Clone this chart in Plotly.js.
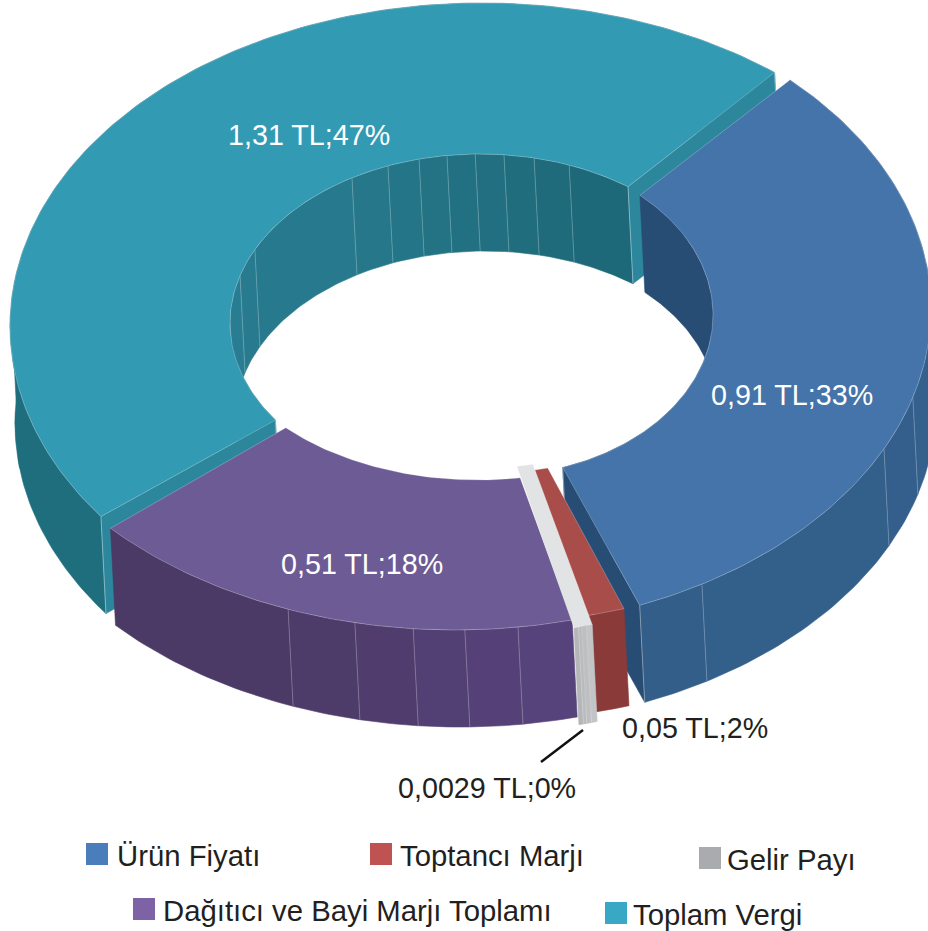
<!DOCTYPE html>
<html>
<head>
<meta charset="utf-8">
<script src="https://cdn.plot.ly/plotly-3.0.1.min.js"></script>
<style>html,body{margin:0;padding:0;background:#fff}#c{width:928px;height:931px}</style>
</head>
<body>
<div id="c"></div>
<script>
// ---- data ----
const categories = ['Ürün Fiyatı', 'Toptancı Marjı', 'Gelir Payı', 'Dağıtıcı ve Bayi Marjı Toplamı', 'Toplam Vergi'];
const values = [0.91, 0.05, 0.0029, 0.51, 1.31];
const valueTexts = ['0,91 TL', '0,05 TL', '0,0029 TL', '0,51 TL', '1,31 TL'];
const percentTexts = ['33%', '2%', '0%', '18%', '47%'];
const legendColors = ['#4A7EBB', '#BE5351', '#AAABAF', '#7D62A6', '#39A8C5'];

// ---- projection of the ring (drawn in axis units) ----
const startAngle = 42, wallDx = 5, wallDy = 97;
const geom = [
  {o:[463,309,468,320], i:[492,315,221,161], trim:[2.3,-1.9,0,1.6],    top:'#4474A9', cut:'#274D75', inner:['#274D75','#274D75'], wall:['#34608D','#335E8A'], oSeams:[149.3,115.9,106], iSeams:[], hasInner:true, cuts:[false,true]},
  {o:[480,300,474,324], i:[478,302,268,172], trim:[2.6,1.6,5.2,3],     top:'#A94D4B', cut:'#8A3A39', inner:['#8A3A39','#8A3A39'], wall:['#8A3A39','#8A3A39'], oSeams:[], iSeams:[], hasInner:false, cuts:[false,false]},
  {o:[467,312,474,324], i:[478,296,268,172], trim:[-1.5,0.4,2,5.1],    top:'#E1E3E5', cut:'#A9ABAD', inner:['#BDBFC1','#BDBFC1'], wall:['#C2C4C6','#B4B6B8'], oSeams:[165.4,166,166.4], iSeams:[], hasInner:false, cuts:[false,false]},
  {o:[455,312,470,318], i:[478,308,268,172], trim:[-1,-5.4,4.4,-6.7],  top:'#6D5B95', cut:'#4B3A66', inner:['#4B3A66','#4B3A66'], wall:['#57437B','#4B3966'], oSeams:[172.3,178.8,185.1,192.3,200.8], iSeams:[], hasInner:false, cuts:[false,false]},
  {o:[482,326,472,323], i:[480,323,250,169], trim:[1.3,-3.7,2.4,-5.7], top:'#329AB3', cut:'#2C879C', inner:['#2A7F94','#1E6979'], wall:['#1F6E7D','#1F6E7D'], oSeams:[], iSeams:[270,286.3,295.8,329.2,338.4,345.9,352.4,358.9,365.5,372.5,380.9], hasInner:true, cuts:[true,true]}
];
const drawOrder = [4, 0, 3, 1, 2];

// ---- helpers ----
const rad = d => d * Math.PI / 180;
const pt = (e, a) => [e[0] + e[2] * Math.sin(rad(a)), e[1] - e[3] * Math.cos(rad(a))];
function arc(e, a0, a1) {
  const n = Math.max(2, Math.ceil(Math.abs(a1 - a0))), out = [];
  for (let k = 0; k <= n; k++) out.push(pt(e, a0 + (a1 - a0) * k / n));
  return out;
}
const drop = p => [p[0] + wallDx, p[1] + wallDy];
function hex(c){return [1,3,5].map(i=>parseInt(c.substr(i,2),16));}
function mix(a,b,t){const A=hex(a),B=hex(b);return 'rgb('+A.map((v,i)=>Math.round(v+(B[i]-v)*t)).join(',')+')';}
function poly(pts, color, lineColor, lineW) {
  const x = pts.map(p=>p[0]).concat(pts[0][0]), y = pts.map(p=>p[1]).concat(pts[0][1]);
  return {type:'scatter', mode:'lines', x, y, fill:'toself', fillcolor:color,
          line:{color:lineColor||color, width:lineW===undefined?0.6:lineW}, hoverinfo:'skip', showlegend:false};
}
function seam(p, opacity) {
  const q = drop(p);
  return {type:'scatter', mode:'lines', x:[p[0],q[0]], y:[p[1],q[1]],
          line:{color:'rgba(255,255,255,'+opacity+')', width:1}, hoverinfo:'skip', showlegend:false};
}
function wall(e, a0, a1, seams, cols) {
  const cuts = [a0].concat(seams.filter(s=>s>a0&&s<a1).sort((p,q)=>p-q)).concat(a1), res = [];
  for (let k=0;k<cuts.length-1;k++){
    const top = arc(e,cuts[k],cuts[k+1]), color = mix(cols[0],cols[1],cuts.length>2 ? k/(cuts.length-2) : 0);
    res.push(poly(top.concat(top.slice().reverse().map(drop)), color));
    // where the ring's side is tangent to the extrusion, close the silhouette
    [90,270].forEach(x=>{
      if (x-8>=cuts[k] && x+8<=cuts[k+1]) {
        const a=pt(e,x-8), m=pt(e,x), b=pt(e,x+8);
        res.push(poly([a,m,b,drop(b),drop(m),drop(a)], color));
      }
    });
  }
  return res;
}

// ---- angles come from the values ----
const total = values.reduce((a,b)=>a+b,0);
let acc = startAngle;
const spans = values.map(v=>{const s=[acc,acc+v/total*360];acc=s[1];return s;});

const traces = [];
drawOrder.forEach(idx=>{
  const g = geom[idx], s = spans[idx], t = g.trim;
  const oa0=s[0]+t[0], oa1=s[1]+t[1], ia0=s[0]+t[2], ia1=s[1]+t[3];
  if (g.hasInner) {
    wall(g.i,ia0,ia1,g.iSeams,g.inner).forEach(x=>traces.push(x));
    g.iSeams.filter(a=>a>ia0&&a<ia1).forEach(a=>traces.push(seam(pt(g.i,a),0.25)));
  }
  wall(g.o,oa0,oa1,g.oSeams,g.wall).forEach(x=>traces.push(x));
  g.oSeams.filter(a=>a>oa0&&a<oa1).forEach(a=>traces.push(seam(pt(g.o,a),0.25)));
  [[oa0,ia0],[oa1,ia1]].forEach((c,n)=>{
    if (!g.cuts[n]) return;
    const a=pt(g.o,c[0]), b=pt(g.i,c[1]);
    traces.push(poly([a,b,drop(b),drop(a)], g.cut));
    traces.push(seam(b,0.4));
    traces.push(seam(a,0.4));
  });
  const outerArc = arc(g.o,oa0,oa1), innerArc = arc(g.i,ia0,ia1).reverse();
  traces.push(poly(outerArc.concat(innerArc), g.top, 'rgba(255,255,255,0.35)', 0.7));
});

// ---- text and legend ----
const labelFont = {family:'"Liberation Sans", Arial, sans-serif', size:28.7};
const labelAt = [[792,395,'#fff'],[695,728,'#231F20'],[487,788,'#231F20'],[362,564,'#fff'],[309,135,'#fff']];
const annotations = categories.map((c,i)=>({
  x:labelAt[i][0], y:labelAt[i][1], xref:'x', yref:'y', showarrow:false, xanchor:'center', yanchor:'middle',
  text:valueTexts[i]+';'+percentTexts[i], font:Object.assign({},labelFont,{color:labelAt[i][2]})
}));
const legendAt = [[86,843],[370,843],[699,847],[133,898],[605,902]];
const legendTextX = [115,398,725,161,631];
const shapes = [{type:'line',xref:'x',yref:'y',x0:583,y0:730,x1:541,y1:762,line:{color:'#111',width:2.5}}];
categories.forEach((c,i)=>{
  const p=legendAt[i];
  shapes.push({type:'rect',xref:'x',yref:'y',x0:p[0],y0:p[1],x1:p[0]+22,y1:p[1]+22,fillcolor:legendColors[i],line:{width:0}});
  annotations.push({x:legendTextX[i],y:p[1]+12,xref:'x',yref:'y',showarrow:false,xanchor:'left',yanchor:'middle',text:c,
    font:Object.assign({},labelFont,{size:29.3,color:'#231F20'})});
});

Plotly.newPlot('c', traces, {
  width:928, height:931, margin:{l:0,r:0,t:0,b:0,pad:0}, showlegend:false,
  paper_bgcolor:'#fff', plot_bgcolor:'#fff',
  xaxis:{range:[0,928],visible:false,fixedrange:true},
  yaxis:{range:[931,0],visible:false,fixedrange:true},
  annotations, shapes
}, {displayModeBar:false, staticPlot:true});
</script>
</body>
</html>
